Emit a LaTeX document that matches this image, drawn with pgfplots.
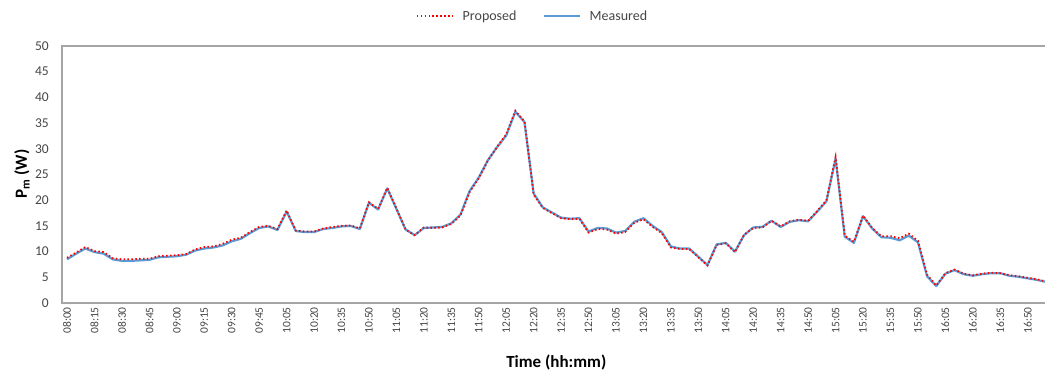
\documentclass[border=0pt]{standalone}
\usepackage{fontspec}
\setmainfont{Carlito}
\usepackage{pgfplots}
\pgfplotsset{compat=1.18}
\usepackage{pgfplotstable}
\definecolor{measblue}{RGB}{91,155,213}
\definecolor{tickgray}{RGB}{70,70,70}
\definecolor{axgray}{RGB}{165,165,165}

\pgfplotstableread{
i meas prop
0 8.5 8.8
1 9.6 9.8
2 10.6 10.9
3 9.9 10.1
4 9.6 9.9
5 8.5 8.7
6 8.2 8.5
7 8.2 8.5
8 8.3 8.6
9 8.4 8.6
10 8.9 9.1
11 9.0 9.2
12 9.1 9.3
13 9.4 9.5
14 10.2 10.4
15 10.6 10.9
16 10.8 11.0
17 11.2 11.5
18 12.0 12.3
19 12.5 12.7
20 13.6 13.8
21 14.6 14.8
22 14.9 15.0
23 14.2 14.4
24 17.8 18.0
25 14.0 14.1
26 13.8 13.9
27 13.8 13.9
28 14.4 14.5
29 14.6 14.8
30 14.9 15.0
31 15.0 15.1
32 14.4 14.5
33 19.5 19.6
34 18.2 18.3
35 22.3 22.4
36 18.3 18.4
37 14.3 14.3
38 13.2 13.2
39 14.6 14.7
40 14.7 14.6
41 14.8 14.7
42 15.5 15.4
43 17.2 17.0
44 21.8 21.6
45 24.4 24.3
46 27.8 27.7
47 30.3 30.4
48 32.6 32.8
49 37.2 37.4
50 35.2 35.3
51 21.3 21.1
52 18.6 18.5
53 17.6 17.5
54 16.6 16.5
55 16.4 16.3
56 16.5 16.4
57 13.9 13.7
58 14.6 14.4
59 14.5 14.3
60 13.7 13.5
61 14.0 13.8
62 15.8 15.6
63 16.5 16.3
64 15.0 14.8
65 13.8 13.6
66 11.0 10.8
67 10.6 10.5
68 10.6 10.5
69 9.0 8.9
70 7.4 7.3
71 11.4 11.3
72 11.7 11.6
73 10.0 9.9
74 13.2 13.3
75 14.7 14.6
76 14.8 14.7
77 16.0 16.0
78 14.8 14.9
79 15.8 15.9
80 16.1 16.2
81 15.9 16.0
82 17.8 17.9
83 19.8 20.0
84 28.1 28.4
85 12.9 13.1
86 11.7 11.9
87 16.9 17.0
88 14.5 14.6
89 12.8 13.0
90 12.7 13.0
91 12.2 12.6
92 13.1 13.5
93 11.8 12.1
94 5.2 5.5
95 3.3 3.4
96 5.7 5.8
97 6.4 6.5
98 5.6 5.7
99 5.3 5.4
100 5.6 5.7
101 5.8 5.9
102 5.8 5.8
103 5.3 5.4
104 5.1 5.2
105 4.8 4.9
106 4.5 4.6
107 4.1 4.2
}\datatable

\begin{document}
\begin{tikzpicture}
\path[use as bounding box] (-62bp,-71bp) rectangle (983bp,303bp);
\begin{axis}[
  at={(0,0)}, anchor=south west,
  scale only axis, width=988.6bp, height=257bp,
  xmin=-0.55, xmax=107.5, ymin=0, ymax=50,
  ytick={0,5,...,50},
  xtick={0,3,...,105},
  xticklabels={08:00,08:15,08:30,08:45,09:00,09:15,09:30,09:45,10:05,10:20,10:35,10:50,11:05,11:20,11:35,11:50,12:05,12:20,12:35,12:50,13:05,13:20,13:35,13:50,14:05,14:20,14:35,14:50,15:05,15:20,15:35,15:50,16:05,16:20,16:35,16:50},
  major tick length=0pt,
  axis line style={axgray, line width=1.4bp},
  /pgf/number format/assume math mode=true,
  tick label style={text=tickgray},
  yticklabel style={font=\fontsize{13.5bp}{15bp}\selectfont, anchor=east, inner xsep=13bp, inner ysep=0pt},
  xticklabel style={font=\fontsize{11.5bp}{13bp}\selectfont, rotate=90, anchor=east, inner xsep=4bp, inner ysep=0pt},
  xlabel={\bfseries Time (hh:mm)},
  ylabel={\bfseries P\textsubscript{m} (W)},
  xlabel style={at={(axis description cs:0.5,-0.2296)}, anchor=center, font=\fontsize{17bp}{19bp}\selectfont},
  ylabel style={at={(axis description cs:-0.0405,0.502)}, anchor=center, rotate=0, font=\fontsize{17bp}{19bp}\selectfont},
  legend image code/.code={\draw[#1] (0bp,0bp) -- (36bp,0bp); \path (43bp,0bp);},
  legend style={at={(axis description cs:0.476,1.117)}, anchor=center, draw=none, fill=none,
    font=\fontsize{14bp}{16bp}\selectfont, text=tickgray,
    /tikz/every even column/.append style={column sep=24bp}},
  legend columns=2,
]
\addlegendimage{red, line width=1.8bp, dash pattern=on 1.5bp off 2.4bp}
\addlegendentry{Proposed}
\addlegendimage{measblue, line width=2.2bp}
\addlegendentry{Measured}
\addplot[measblue, line width=2.2bp, line join=round, forget plot] table[x=i, y=meas] {\datatable};
\addplot[red, line width=1.8bp, dash pattern=on 1.5bp off 2.4bp, forget plot] table[x=i, y=prop] {\datatable};
\end{axis}
\end{tikzpicture}
\end{document}
